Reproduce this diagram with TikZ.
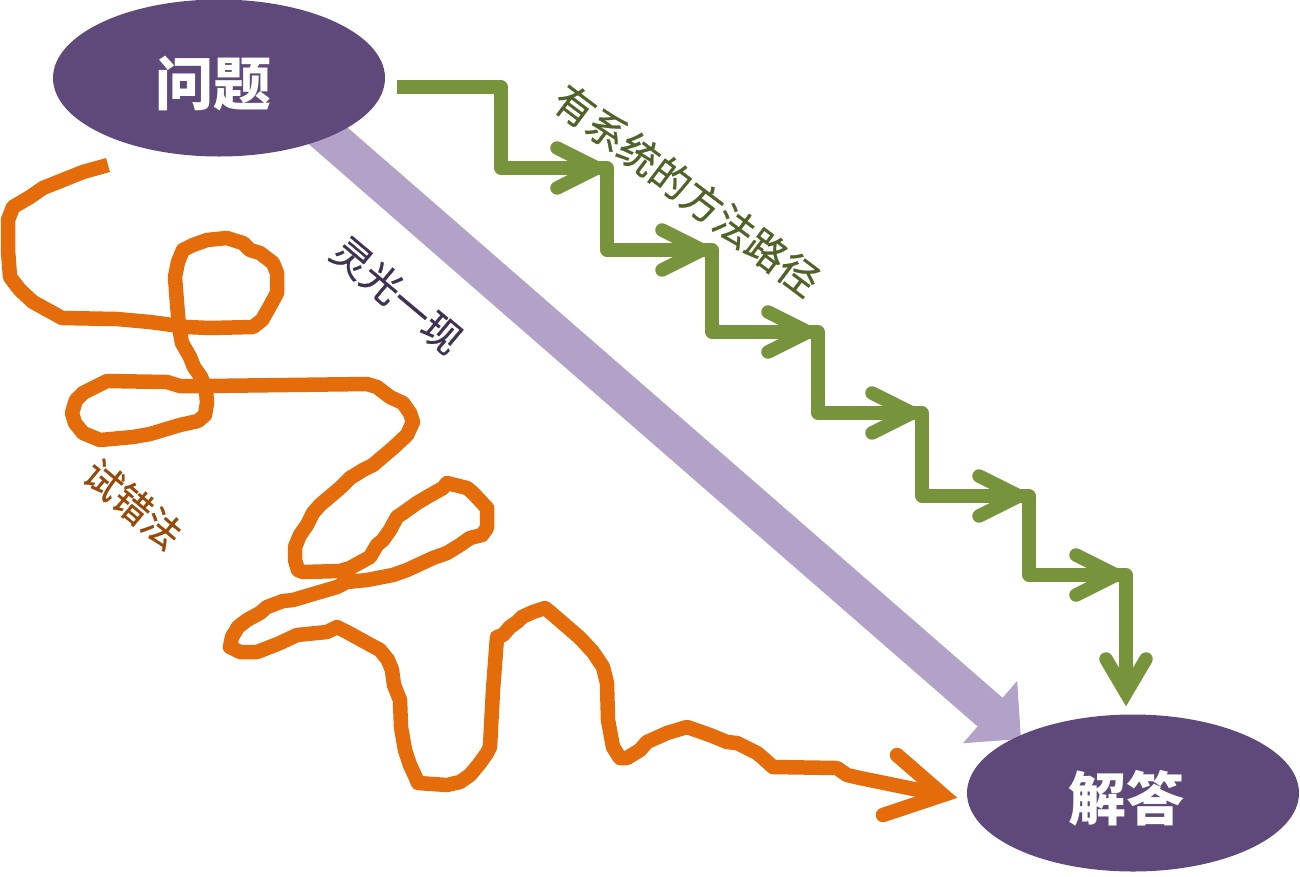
\documentclass[tikz,border=0pt]{standalone}
\usepackage{fontspec}
\newfontfamily\cjk{Noto Sans CJK SC}
\newfontfamily\cjklab{Noto Sans CJK SC}[FakeBold=0.6]
\usetikzlibrary{shapes.geometric,arrows.meta,calc}
\definecolor{elpurple}{HTML}{5F497A}
\definecolor{lavender}{HTML}{B3A2C7}
\definecolor{gline}{HTML}{77933C}
\definecolor{gtext}{HTML}{4F6228}
\definecolor{oline}{HTML}{E46C0A}
\definecolor{otext}{HTML}{984807}
\definecolor{ptext}{HTML}{403152}
\tikzset{
  ell/.style={ellipse, fill=elpurple, draw=none, minimum width=332pt, minimum height=157pt, inner sep=0pt},
  titletext/.style={text=white, font=\cjk\bfseries\fontsize{58}{58}\selectfont, inner sep=0pt},
  difflabel/.style={font=\cjklab\fontsize{40}{40}\selectfont, inner sep=0pt},
  insight/.style={draw=lavender, line width=38pt, -{Triangle[length=41pt,width=80pt]}},
  stairline/.style={draw=gline, line width=13.5pt, line join=round, line cap=butt},
  stairhead/.style={draw=gline, line width=13.5pt, line join=miter, line cap=round},
  trialline/.style={draw=oline, line width=14.5pt, line join=round, line cap=butt},
  trialhead/.style={draw=oline, line width=14.5pt, line join=miter, line cap=round},
}
\begin{document}
\begin{tikzpicture}[x=1pt,y=-1pt]
\useasboundingbox (0,0) rectangle (1300,876);
% coordinates
\coordinate (lstart) at (318,127);
\coordinate (ltip) at (1021,739);
\coordinate (gstart) at (397,87);
\coordinate (gend) at (1126,693);
\coordinate (ostart) at (108,165);
\coordinate (otip) at (943,795);
% insight arrow
\draw[insight] (lstart) -- (ltip);
% ellipses
\node[ell] (q) at (219,78) {};
\node[titletext] (qt) at (213,84) {问题};
\node[ell] (a) at (1133,793) {};
\node[titletext] (at) at (1126,798) {解答};
% systematic staircase
\draw[stairline] (gstart) -- (501,87) -- (501,168) -- (607,168) -- (607,250) -- (712,250) -- (712,332)
  -- (818,332) -- (818,413) -- (922,413) -- (922,496) -- (1029,496) -- (1029,575) -- (1126,575) -- (gend);
\foreach \tx/\ty in {607/168, 712/250, 818/332, 922/413, 1029/496, 1126/575}{
  \draw[stairhead, shift={(\tx-10,\ty)}] (-40,-20) -- (0,0) -- (-40,20);
}
\draw[stairhead] ($(gend)+(-20,-34)$) -- (gend) -- ($(gend)+(20,-34)$);
% trial and error
\draw[trialline] (ostart) -- (83,172) -- (63,180) -- (43,188) -- (30,197) -- (13,207) -- (8,220) -- (8,250)
 -- (10,277) -- (20,290) -- (33,302) -- (53,313) -- (62,318) -- (117,319) -- (150,322) -- (187,327)
 -- (210,328) -- (253,327) -- (262,320) -- (270,306) -- (277,293) -- (277,273) -- (273,263) -- (260,253)
 -- (250,250) -- (243,243) -- (233,240) -- (227,238) -- (207,240) -- (193,245) -- (183,250) -- (178,262)
 -- (175,277) -- (177,303) -- (179,327) -- (182,343) -- (190,357) -- (194,367) -- (201,377) -- (206,390)
 -- (207,403) -- (205,415) -- (198,421) -- (180,425) -- (150,434) -- (133,437) -- (100,440) -- (83,433)
 -- (75,423) -- (72,413) -- (76,400) -- (83,393) -- (107,381) -- (167,382) -- (180,386) -- (207,386)
 -- (367,384) -- (377,387) -- (390,397) -- (403,403) -- (410,413) -- (413,422) -- (407,435) -- (393,448)
 -- (373,465) -- (363,470) -- (350,478) -- (340,488) -- (320,505) -- (313,513) -- (307,525) -- (300,535)
 -- (295,547) -- (295,560) -- (298,570) -- (303,572) -- (340,571) -- (350,568) -- (370,557) -- (377,545)
 -- (383,540) -- (390,530) -- (397,517) -- (403,513) -- (417,503) -- (427,497) -- (443,488) -- (447,483)
 -- (467,488) -- (473,493) -- (487,508) -- (487,528) -- (482,535) -- (470,538) -- (460,545) -- (447,553)
 -- (433,558) -- (407,570) -- (393,575) -- (367,580) -- (347,582) -- (337,587) -- (320,592) -- (303,597)
 -- (293,600) -- (283,601) -- (267,607) -- (260,613) -- (247,620) -- (238,627) -- (232,637) -- (230,647)
 -- (240,652) -- (257,652) -- (270,647) -- (280,643) -- (297,635) -- (327,632) -- (337,627) -- (347,632)
 -- (367,643) -- (380,650) -- (388,660) -- (392,670) -- (394,685) -- (400,700) -- (401,727) -- (405,750)
 -- (410,765) -- (416,778) -- (418,783) -- (447,785) -- (460,782) -- (470,775) -- (480,763) -- (487,753)
 -- (490,747) -- (493,690) -- (497,637) -- (503,635) -- (510,627) -- (517,622) -- (522,617) -- (533,612)
 -- (545,608) -- (550,612) -- (580,638) -- (593,652) -- (603,667) -- (607,683) -- (608,720) -- (613,747)
 -- (620,758) -- (627,758) -- (640,750) -- (647,742) -- (667,733) -- (687,727) -- (710,735) -- (727,742)
 -- (737,743) -- (757,753) -- (763,758) -- (773,767) -- (837,768) -- (847,775) -- (860,778) -- (otip);
\draw[trialhead] (897,755) -- (otip) -- (883,815);
% labels
\node[difflabel, text=gtext, rotate=-37] (glabel) at (687,190) {有系统的方法路径};
\node[difflabel, text=ptext, rotate=-40, font=\cjklab\fontsize{39}{39}\selectfont] (plabel) at (397,295) {灵光一现};
\node[difflabel, text=otext, rotate=-40, font=\cjklab\fontsize{38}{38}\selectfont] (olabel) at (133,504) {试错法};
\end{tikzpicture}
\end{document}
